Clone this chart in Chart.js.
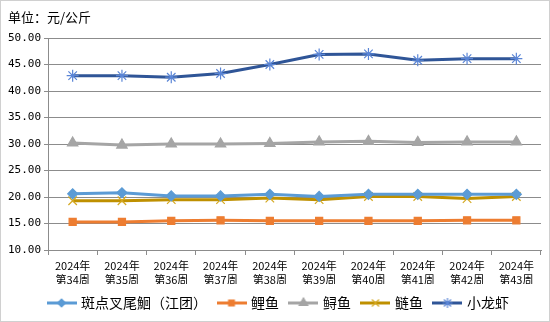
<!DOCTYPE html>
<html>
<head>
<meta charset="utf-8">
<script src="https://cdn.jsdelivr.net/npm/chart.js@4"></script>
<style>
  html, body { margin: 0; padding: 0; background: #fff; }
  #wrap { width: 550px; height: 322px; box-sizing: border-box; border: 1px solid #d0d0d0; }
  canvas { display: block; }
</style>
</head>
<body>
<div id="wrap"><canvas id="chart" width="548" height="320"></canvas></div>
<script>
var years = ['2024年', '2024年', '2024年', '2024年', '2024年', '2024年', '2024年', '2024年', '2024年', '2024年'];
var weeks = ['第34周', '第35周', '第36周', '第37周', '第38周', '第39周', '第40周', '第41周', '第42周', '第43周'];

var catfish  = [20.6, 20.8, 20.2, 20.2, 20.5, 20.1, 20.5, 20.5, 20.5, 20.5];
var carp     = [15.3, 15.3, 15.5, 15.6, 15.5, 15.5, 15.5, 15.5, 15.6, 15.6];
var sturgeon = [30.2, 29.8, 30.0, 30.0, 30.1, 30.4, 30.5, 30.3, 30.4, 30.4];
var silver   = [19.3, 19.3, 19.5, 19.5, 19.8, 19.5, 20.1, 20.1, 19.7, 20.1];
var crayfish = [42.9, 42.9, 42.6, 43.3, 45.0, 46.9, 47.0, 45.8, 46.1, 46.1];

var yTicks = [10, 15, 20, 25, 30, 35, 40, 45, 50];

var labels = years.map(function (y, i) { return [y, weeks[i]]; });

function series(name, data, color, mark, style, radius) {
    return {
        label: name, data: data,
        borderColor: color, backgroundColor: mark,
        pointBorderColor: mark, pointBackgroundColor: mark,
        pointStyle: style, pointRadius: radius, pointHoverRadius: radius,
        pointBorderWidth: 1.2,
        borderWidth: 3, tension: 0, fill: false
    };
}

var datasets = [
    series('斑点叉尾鮰（江团）', catfish, '#5b9bd5', '#5b9bd5', 'rectRot', 5),
    series('鲤鱼', carp, '#ed7d31', '#ed7d31', 'rect', 5),
    series('鲟鱼', sturgeon, '#a5a5a5', '#a5a5a5', 'triangle', 6),
    series('鲢鱼', silver, '#bf9000', '#d4a820', 'crossRot', 6),
    series('小龙虾', crayfish, '#2f5597', '#5a85d6', 'star', 6)
];

function legendIcon(ds) {
    var c = document.createElement('canvas');
    c.width = 30; c.height = 14;
    var ctx = c.getContext('2d');
    ctx.strokeStyle = ds.borderColor; ctx.lineWidth = 3;
    ctx.beginPath(); ctx.moveTo(0, 7); ctx.lineTo(30, 7); ctx.stroke();
    ctx.fillStyle = ds.pointBackgroundColor; ctx.strokeStyle = ds.pointBorderColor;
    ctx.lineWidth = 1.2;
    Chart.helpers.drawPoint(ctx, { pointStyle: ds.pointStyle, radius: ds.pointRadius - 1, rotation: 0, borderWidth: 1.2 }, 15, 7);
    return c;
}

// move the legend box so that its row sits where the reference has it
var legendShift = {
    id: 'legendShift',
    afterLayout: function (chart) {
        var lg = chart.legend;
        lg.left = 8; lg.right = 548; lg.width = 540;
    }
};

new Chart(document.getElementById('chart').getContext('2d'), {
    type: 'line',
    data: { labels: labels, datasets: datasets },
    plugins: [legendShift],
    options: {
        responsive: false, animation: false,
        layout: { padding: { left: 7, right: 8, top: 0, bottom: 1 } },
        plugins: {
            tooltip: { enabled: false },
            title: {
                display: true, text: '单位：元/公斤', align: 'start',
                color: '#000', font: { family: 'Noto Sans CJK SC', size: 13, weight: 'normal' },
                padding: { top: 8.5, bottom: 12.9 }
            },
            legend: {
                position: 'bottom',
                labels: {
                    usePointStyle: true, pointStyleWidth: 25, padding: 12,
                    color: '#000', font: { family: 'Noto Sans CJK SC', size: 14 },
                    generateLabels: function (chart) {
                        return chart.data.datasets.map(function (ds, i) {
                            return {
                                text: ds.label, datasetIndex: i, hidden: false,
                                pointStyle: legendIcon(ds), fontColor: '#000',
                                lineWidth: 0, strokeStyle: 'transparent', fillStyle: 'transparent'
                            };
                        });
                    }
                }
            }
        },
        scales: {
            x: {
                offset: true,
                grid: { drawOnChartArea: false, drawTicks: true, tickLength: 5, color: '#8c8c8c', offset: true },
                border: { color: '#8c8c8c', width: 1 },
                ticks: { color: '#000', font: { family: 'Noto Sans CJK SC', size: 11, lineHeight: 1.25 }, maxRotation: 0, autoSkip: false, padding: 4 },
                afterFit: function (scale) { scale.height = 34; }
            },
            y: {
                min: 10, max: 50,
                afterBuildTicks: function (scale) { scale.ticks = yTicks.map(function (v) { return { value: v }; }); },
                grid: { color: '#8c8c8c', tickLength: 4 },
                border: { color: '#8c8c8c', width: 1 },
                ticks: {
                    color: '#000', font: { family: 'DejaVu Sans Mono', size: 11 }, padding: 3,
                    callback: function (v) { return v.toFixed(2); }
                },
                afterFit: function (scale) { scale.width = 40; }
            }
        }
    }
});
</script>
</body>
</html>
